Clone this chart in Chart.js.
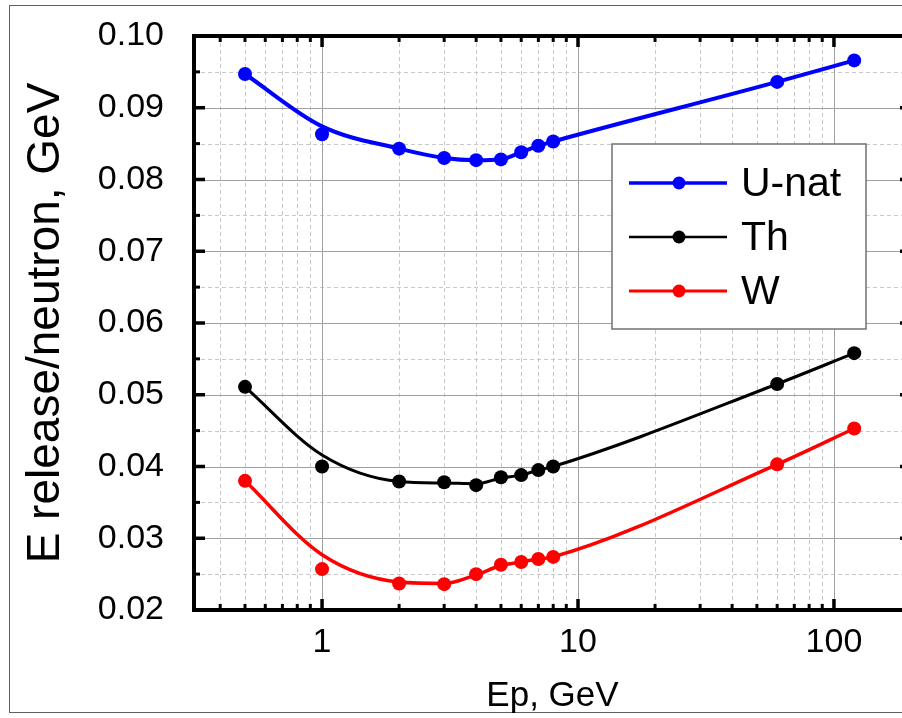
<!DOCTYPE html>
<html>
<head>
<meta charset="utf-8">
<script src="https://cdn.jsdelivr.net/npm/chart.js@4"></script>
<style>
    html, body { margin: 0; padding: 0; background: #fff; overflow: hidden; }
    #wrap { width: 930px; height: 718px; }
</style>
</head>
<body>
<div id="wrap"><canvas id="chart" width="930" height="718"></canvas></div>
<script>
// proton energy, GeV
const energies = [0.5, 1, 2, 3, 4, 5, 6, 7, 8, 60, 120];

// measured points
const uNatValues = [0.0947, 0.0863, 0.0843, 0.0830, 0.0827, 0.0828, 0.0838, 0.0847, 0.0853, 0.0936, 0.0966];
const thValues   = [0.0511, 0.0400, 0.0379, 0.0378, 0.0374, 0.0385, 0.0388, 0.0395, 0.0400, 0.0515, 0.0558];
const wValues    = [0.0380, 0.0257, 0.0237, 0.0236, 0.0250, 0.0263, 0.0267, 0.0271, 0.0274, 0.0403, 0.0453];

// smooth curves as drawn in the figure, read at the same energies
const uNatFit = [0.0947, 0.0874, 0.0843, 0.0830, 0.0827, 0.0828, 0.0838, 0.0847, 0.0853, 0.0936, 0.0966];
const thFit   = [0.0511, 0.0416, 0.0379, 0.0377, 0.0376, 0.0384, 0.0388, 0.0395, 0.0400, 0.0515, 0.0558];
const wFit    = [0.0380, 0.0277, 0.0239, 0.0237, 0.0249, 0.0262, 0.0267, 0.0271, 0.0274, 0.0403, 0.0453];

const seriesNames = ["U-nat", "Th", "W"];
const seriesColors = ["#0000ff", "#000000", "#ff0000"];
const seriesWidths = [4, 3, 3.5];

// tick labels
const xMajorTicks = [1, 10, 100];
const xMinorTicks = [0.4, 0.5, 0.6, 0.7, 0.8, 0.9, 2, 3, 4, 5, 6, 7, 8, 9, 20, 30, 40, 50, 60, 70, 80, 90];
const yMajorTicks = [0.02, 0.03, 0.04, 0.05, 0.06, 0.07, 0.08, 0.09, 0.10];
const yMinorTicks = [0.025, 0.035, 0.045, 0.055, 0.065, 0.075, 0.085, 0.095];

const FONT = "'Liberation Sans', Arial, sans-serif";

function toPoints(values) {
    return energies.map((e, i) => ({ x: e, y: values[i] }));
}

const fits = [uNatFit, thFit, wFit];
const points = [uNatValues, thValues, wValues];
let datasets = [];
for (let i = 0; i < seriesNames.length; i++) {
    datasets.push({
        label: seriesNames[i] + " fit",
        data: toPoints(fits[i]),
        showLine: true,
        borderColor: seriesColors[i],
        borderWidth: seriesWidths[i],
        cubicInterpolationMode: 'monotone',
        pointRadius: 0,
        fill: false,
    });
    datasets.push({
        label: seriesNames[i],
        data: toPoints(points[i]),
        showLine: false,
        pointRadius: 7,
        pointBackgroundColor: seriesColors[i],
        pointBorderColor: seriesColors[i],
        pointBorderWidth: 0,
    });
}

function vline(ctx, x, y1, y2) {
    ctx.beginPath();
    ctx.moveTo(x, y1);
    ctx.lineTo(x, y2);
    ctx.stroke();
}
function hline(ctx, y, x1, x2) {
    ctx.beginPath();
    ctx.moveTo(x1, y);
    ctx.lineTo(x2, y);
    ctx.stroke();
}

const framePlugin = {
    id: 'frame',
    beforeDraw(chart) {
        const ctx = chart.ctx;
        ctx.save();
        ctx.strokeStyle = '#606060';
        ctx.lineWidth = 1;
        ctx.strokeRect(9.5, 5.5, 1000, 707);
        ctx.restore();
    },
    beforeDatasetsDraw(chart) {
        const { ctx, chartArea: a, scales: { x, y } } = chart;
        ctx.save();
        ctx.lineWidth = 1;
        // minor grid, dashed
        ctx.strokeStyle = '#c8c8c8';
        ctx.setLineDash([4, 3]);
        for (const v of xMinorTicks) {
            const px = Math.round(x.getPixelForValue(v)) + 0.5;
            vline(ctx, px, a.top, a.bottom);
        }
        for (const v of yMinorTicks) {
            const py = Math.round(y.getPixelForValue(v)) + 0.5;
            hline(ctx, py, a.left, a.right);
        }
        // major grid, solid
        ctx.setLineDash([]);
        ctx.strokeStyle = '#a0a0a0';
        for (const v of xMajorTicks) {
            const px = Math.round(x.getPixelForValue(v)) + 0.5;
            vline(ctx, px, a.top, a.bottom);
        }
        for (const v of yMajorTicks) {
            const py = Math.round(y.getPixelForValue(v)) + 0.5;
            hline(ctx, py, a.left, a.right);
        }
        ctx.restore();
    },
    afterDatasetsDraw(chart) {
        const { ctx, chartArea: a, scales: { x, y } } = chart;
        ctx.save();
        ctx.strokeStyle = '#000';
        ctx.lineCap = 'butt';
        // inward ticks on all four sides
        const drawX = (vals, len, w) => {
            ctx.lineWidth = w;
            for (const v of vals) {
                const px = x.getPixelForValue(v);
                vline(ctx, px, a.bottom, a.bottom - len);
                vline(ctx, px, a.top, a.top + len);
            }
        };
        const drawY = (vals, len, w) => {
            ctx.lineWidth = w;
            for (const v of vals) {
                const py = y.getPixelForValue(v);
                hline(ctx, py, a.left, a.left + len);
                hline(ctx, py, a.right, a.right - len);
            }
        };
        drawX(xMinorTicks, 6, 3);
        drawX(xMajorTicks, 11, 3.5);
        drawY(yMinorTicks, 6, 3);
        drawY(yMajorTicks, 11, 3.5);
        ctx.lineWidth = 4;
        ctx.strokeRect(a.left, a.top, a.right - a.left, a.bottom - a.top);
        ctx.restore();
    },
    afterDraw(chart) {
        // legend box inside the plot
        const ctx = chart.ctx;
        ctx.save();
        ctx.fillStyle = '#fff';
        ctx.fillRect(612, 144, 254, 185);
        ctx.strokeStyle = '#707070';
        ctx.lineWidth = 1.5;
        ctx.strokeRect(612, 144, 254, 185);
        const rows = [183, 237, 291];
        ctx.font = "41px " + FONT;
        ctx.textBaseline = 'middle';
        ctx.textAlign = 'left';
        for (let i = 0; i < seriesNames.length; i++) {
            const yy = rows[i];
            ctx.strokeStyle = seriesColors[i];
            ctx.lineWidth = seriesWidths[i] - 0.5;
            hline(ctx, yy, 629, 727);
            ctx.fillStyle = seriesColors[i];
            ctx.beginPath();
            ctx.arc(679, yy, 6.5, 0, Math.PI * 2);
            ctx.fill();
            ctx.fillStyle = '#000';
            ctx.fillText(seriesNames[i], 741, yy + 2);
        }
        ctx.restore();
    }
};

const chart = new Chart(document.getElementById('chart').getContext('2d'), {
    type: 'scatter',
    data: { datasets: datasets },
    plugins: [framePlugin],
    options: {
        responsive: false,
        animation: false,
        devicePixelRatio: 1,
        layout: { padding: { top: 36, right: 19, bottom: 0, left: 0 } },
        plugins: {
            legend: { display: false },
            tooltip: { enabled: false },
        },
        scales: {
            x: {
                type: 'logarithmic',
                bounds: 'data',
                min: 0.316,
                max: 200,
                grid: { display: false },
                border: { display: false },
                afterBuildTicks: (scale) => {
                    scale.ticks = xMajorTicks.map(v => ({ value: v, major: true }));
                },
                afterFit: (scale) => {
                    scale.height = 108;
                    scale.paddingLeft = 0;
                    scale.paddingRight = 0;
                },
                ticks: {
                    autoSkip: false,
                    maxRotation: 0,
                    padding: 4,
                    color: '#000',
                    font: { family: FONT, size: 34 },
                    callback: (v) => String(v),
                },
                title: {
                    display: true,
                    text: 'Ep, GeV',
                    color: '#000',
                    font: { family: FONT, size: 35 },
                    padding: { top: 0, bottom: 1 },
                },
            },
            y: {
                min: 0.02,
                max: 0.10,
                grid: { display: false },
                border: { display: false },
                afterBuildTicks: (scale) => {
                    scale.ticks = yMajorTicks.map(v => ({ value: v }));
                },
                afterFit: (scale) => {
                    scale.width = 194;
                    scale.paddingTop = 0;
                    scale.paddingBottom = 0;
                },
                ticks: {
                    padding: 22,
                    color: '#000',
                    font: { family: FONT, size: 34 },
                    callback: (v) => v.toFixed(2),
                },
                title: {
                    display: true,
                    text: 'E release/neutron, GeV',
                    color: '#000',
                    font: { family: FONT, size: 46 },
                    padding: { top: 19, bottom: 0 },
                },
            },
        },
    },
});
</script>
</body>
</html>
